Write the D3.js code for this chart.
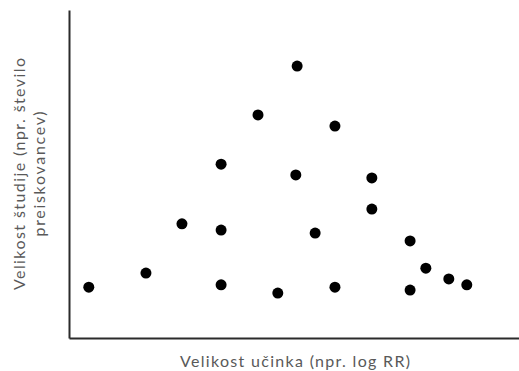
<!DOCTYPE html>
<html>
  <head>
    <meta charset="utf-8">
    <script src="https://d3js.org/d3.v7.min.js"></script>
    <style>
      body { margin: 0; background: white; }
      .lbl { font-family: Lato, "Open Sans", sans-serif; fill: #595959; }
    </style>
  </head>
  <body>
    <div id="chart"></div>
    <script>
    // effect size (x) and study size (y), arbitrary 0-100 units
    var effect = [4.4, 17.1, 25.1, 33.8, 33.8, 33.8, 42.0, 50.7, 59.1, 50.4,
                  67.3, 67.3, 54.7, 75.8, 79.3, 84.4, 88.4, 75.8, 59.1, 46.4];
    var studySize = [15.5, 19.8, 34.8, 32.9, 53.0, 16.2, 68.0, 82.9, 64.6, 49.7,
                     48.8, 39.3, 32.0, 29.6, 21.3, 18.0, 16.2, 14.6, 15.5, 13.7];
    var xTitle = "Velikost učinka (npr. log RR)";
    var yTitle = ["Velikost študije (npr. število", "preiskovancev)"];

    var width = 519, height = 371;
    var margin = {top: 10, right: 0, bottom: 33, left: 69};

    var svg = d3.select("#chart").append("svg")
        .attr("width", width)
        .attr("height", height);

    var x = d3.scaleLinear().domain([0, 100]).range([margin.left, width - margin.right]);
    var y = d3.scaleLinear().domain([0, 100]).range([height - margin.bottom, margin.top]);

    // axes: just the two lines, no ticks
    svg.append("g")
        .attr("transform", "translate(0," + y(0) + ")")
        .call(d3.axisBottom(x).tickValues([]).tickSizeOuter(0))
        .call(g => g.select(".domain").attr("stroke", "#2b2b2b").attr("stroke-width", 2));
    svg.append("g")
        .attr("transform", "translate(" + x(0) + ",0)")
        .call(d3.axisLeft(y).tickValues([]).tickSizeOuter(0))
        .call(g => g.select(".domain").attr("stroke", "#2b2b2b").attr("stroke-width", 2));

    // points
    svg.selectAll("circle")
        .data(effect)
        .enter().append("circle")
          .attr("cx", d => x(d))
          .attr("cy", (d, i) => y(studySize[i]))
          .attr("r", 5.5)
          .attr("fill", "black");

    // titles
    svg.append("text")
        .attr("class", "lbl")
        .attr("x", 295)
        .attr("y", 367)
        .attr("text-anchor", "middle")
        .attr("font-size", 16)
        .attr("textLength", 230)
        .attr("lengthAdjust", "spacing")
        .text(xTitle);

    var yt = svg.append("text")
        .attr("class", "lbl")
        .attr("transform", "translate(0,174) rotate(-90)")
        .attr("text-anchor", "middle")
        .attr("font-size", 16);
    yt.append("tspan").attr("x", 0).attr("y", 25).attr("textLength", 232).attr("lengthAdjust", "spacing").text(yTitle[0]);
    yt.append("tspan").attr("x", 0).attr("y", 45).attr("textLength", 125).attr("lengthAdjust", "spacing").text(yTitle[1]);
    </script>
  </body>
</html>
